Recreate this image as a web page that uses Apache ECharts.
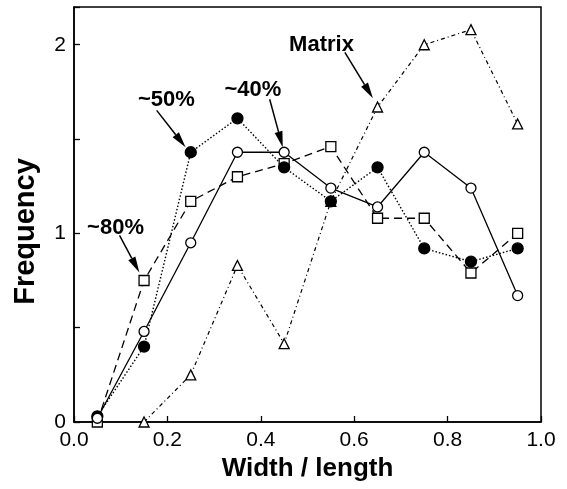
<!DOCTYPE html>
<html>
<head>
<meta charset="utf-8">
<script src="https://cdn.jsdelivr.net/npm/echarts@6/dist/echarts.min.js"></script>
<style>
  html, body { margin: 0; padding: 0; background: #fff; }
  #chartsDiv { width: 567px; height: 489px; }
</style>
</head>
<body>
<div id="chartsDiv"></div>
<script>
var FONT = '"Liberation Sans", Arial, Helvetica, sans-serif';

// width / length bins
var widthRatio = [0.05, 0.15, 0.25, 0.35, 0.45, 0.55, 0.65, 0.75, 0.85, 0.95];
// ~40% : open circles, solid line
var pct40 = [0.02, 0.48, 0.95, 1.43, 1.43, 1.24, 1.14, 1.43, 1.24, 0.67];
// ~50% : filled circles, dotted line
var pct50 = [0.03, 0.40, 1.43, 1.61, 1.35, 1.17, 1.35, 0.92, 0.85, 0.92];
// ~80% : open squares, dashed line
var pct80 = [0.00, 0.75, 1.17, 1.30, 1.37, 1.46, 1.08, 1.08, 0.79, 1.00];
// Matrix : open triangles, dash-dot line
var matrix = [null, 0.00, 0.25, 0.83, 0.415, 1.17, 1.67, 2.00, 2.08, 1.58];

// annotations: label, label centre, arrow start, arrow tip (data coords)
var annoText = ['~50%', '~40%', 'Matrix', '~80%'];
var annoTextPos = [[0.198, 1.705], [0.383, 1.759], [0.530, 1.997], [0.089, 1.027]];
var annoFrom = [[0.177, 1.652], [0.419, 1.711], [0.580, 1.960], [0.0975, 0.989]];
var annoTo = [[0.239, 1.456], [0.447, 1.456], [0.640, 1.716], [0.140, 0.793]];

var pairs = function (ys) {
  return widthRatio.map(function (x, i) { return [x, ys[i]]; });
};

var renderAnno = function (params, api) {
  var p1 = api.coord([api.value(0), api.value(1)]);
  var p2 = api.coord([api.value(2), api.value(3)]);
  var t = api.coord([api.value(4), api.value(5)]);
  var dx = p2[0] - p1[0], dy = p2[1] - p1[1];
  var len = Math.sqrt(dx * dx + dy * dy);
  var ux = dx / len, uy = dy / len;
  var hl = 16, hw = 4;
  var bx = p2[0] - ux * hl, by = p2[1] - uy * hl;
  return {
    type: 'group',
    children: [
      { type: 'line', shape: { x1: p1[0], y1: p1[1], x2: bx, y2: by },
        style: { stroke: '#000', lineWidth: 1.5 } },
      { type: 'polygon',
        shape: { points: [[p2[0], p2[1]], [bx - uy * hw, by + ux * hw], [bx + uy * hw, by - ux * hw]] },
        style: { fill: '#000' } },
      { type: 'text', x: t[0], y: t[1],
        style: { text: annoText[params.dataIndex], fontSize: 22, fontWeight: 'bold', fontFamily: FONT,
          fill: '#000', align: 'center', verticalAlign: 'middle' } }
    ]
  };
};

var realChart = echarts.init(document.getElementById('chartsDiv'));

var mkSeries = function (name, ys, symbol, size, fill, dash, width) {
  return {
    name: name,
    type: 'line',
    data: pairs(ys),
    symbol: symbol,
    symbolSize: size,
    showAllSymbol: true,
    connectNulls: false,
    lineStyle: { color: '#000', width: width, type: dash },
    itemStyle: { color: fill, borderColor: '#000', borderWidth: 1.3 },
    z: 3
  };
};

var option = {
  animation: false,
  backgroundColor: '#fff',
  textStyle: { fontFamily: FONT },
  grid: {
    left: 74,
    right: 26,
    top: 7,
    bottom: 67,
    show: true,
    borderColor: '#000',
    borderWidth: 1.5,
    backgroundColor: 'transparent'
  },
  xAxis: {
    type: 'value',
    min: 0,
    max: 1,
    interval: 0.2,
    name: 'Width / length',
    nameLocation: 'middle',
    nameGap: 30,
    nameTextStyle: { color: '#000', fontSize: 26, fontWeight: 'bold', fontFamily: FONT },
    axisLine: { show: true, lineStyle: { color: '#000', width: 1.5 } },
    axisTick: { show: true, inside: true, length: 6, lineStyle: { color: '#000', width: 1.3 } },
    axisLabel: {
      color: '#000', fontSize: 21, fontFamily: FONT, margin: 8,
      formatter: function (v) { return v.toFixed(1); }
    },
    splitLine: { show: false }
  },
  yAxis: {
    type: 'value',
    min: 0,
    max: 2.2,
    interval: 0.5,
    name: 'Frequency',
    nameLocation: 'middle',
    nameGap: 34,
    nameTextStyle: { color: '#000', fontSize: 29, fontWeight: 'bold', fontFamily: FONT, padding: [0, 34, 0, 0] },
    axisLine: { show: true, lineStyle: { color: '#000', width: 1.5 } },
    axisTick: { show: true, inside: true, length: 6, lineStyle: { color: '#000', width: 1.3 } },
    axisLabel: {
      color: '#000', fontSize: 21, fontFamily: FONT, margin: 8,
      formatter: function (v) {
        return Math.abs(v - Math.round(v)) < 1e-6 && v < 2.1 ? String(Math.round(v)) : '';
      }
    },
    splitLine: { show: false }
  },
  series: [
    mkSeries('Matrix', matrix, 'triangle', 10, '#fff', [4, 3, 1, 3], 1.2),
    mkSeries('~80%', pct80, 'rect', 10, '#fff', [8, 5], 1.3),
    mkSeries('~50%', pct50, 'circle', 11, '#000', [1.5, 2], 1.4),
    mkSeries('~40%', pct40, 'circle', 10, '#fff', 'solid', 1.3),
    {
      type: 'custom',
      renderItem: renderAnno,
      clip: false,
      silent: true,
      z: 5,
      encode: { x: [0, 2, 4], y: [1, 3, 5] },
      data: annoText.map(function (s, i) {
        return [annoFrom[i][0], annoFrom[i][1], annoTo[i][0], annoTo[i][1], annoTextPos[i][0], annoTextPos[i][1]];
      })
    }
  ]
};

realChart.setOption(option);
</script>
</body>
</html>
